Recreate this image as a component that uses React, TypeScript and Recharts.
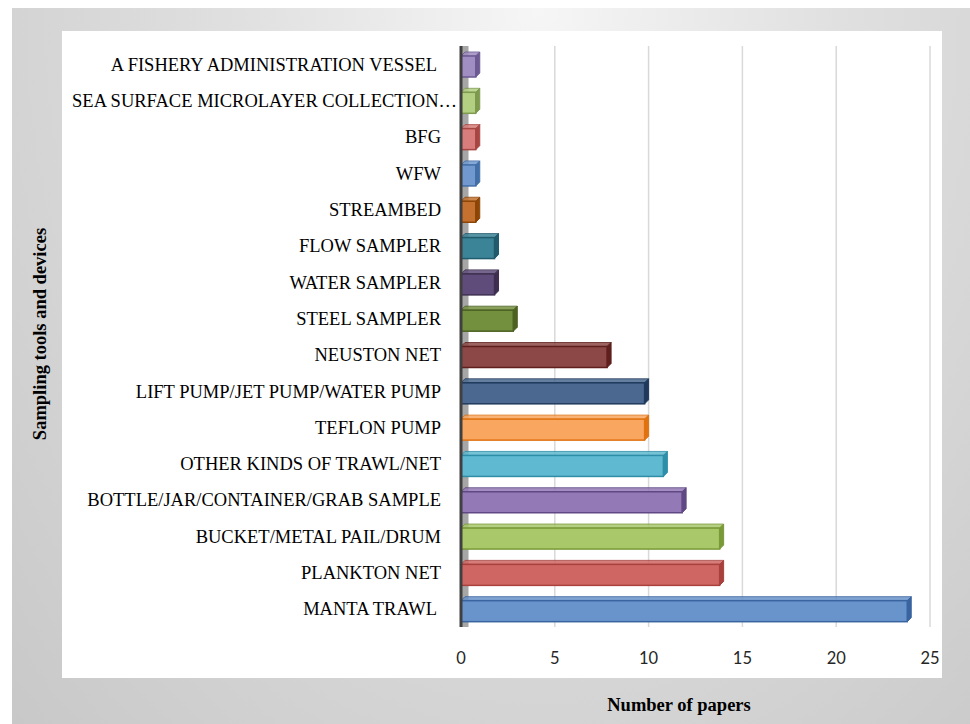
import React from "react";
import {
  BarChart,
  Bar,
  XAxis,
  YAxis,
  CartesianGrid,
  Cell,
  ReferenceArea,
} from "recharts";

// top to bottom, as drawn
const categories = [
  "A FISHERY ADMINISTRATION VESSEL ",
  "SEA SURFACE MICROLAYER COLLECTION…",
  "BFG",
  "WFW",
  "STREAMBED",
  "FLOW SAMPLER",
  "WATER SAMPLER",
  "STEEL SAMPLER",
  "NEUSTON NET",
  "LIFT PUMP/JET PUMP/WATER PUMP",
  "TEFLON PUMP",
  "OTHER KINDS OF TRAWL/NET",
  "BOTTLE/JAR/CONTAINER/GRAB SAMPLE",
  "BUCKET/METAL PAIL/DRUM",
  "PLANKTON NET",
  "MANTA TRAWL ",
];

const papers = [1, 1, 1, 1, 1, 2, 2, 3, 8, 10, 10, 11, 12, 14, 14, 24];

const xTicks = [0, 5, 10, 15, 20, 25];

const fills = [
  "#a08dc2", "#b3cf82", "#d87d7b", "#7199d0", "#c4702e", "#3b8397",
  "#5f4c7a", "#73903e", "#8c4846", "#4a6890", "#f9a660", "#5fb9d0",
  "#9379b5", "#a9c86a", "#d06663", "#6893cb",
];
const edges = [
  "#6d5a92", "#7e9a4e", "#a84644", "#426fa8", "#8d4607", "#205c6c",
  "#3d2f50", "#4c6122", "#5e1f1d", "#1f3a5c", "#e0720f", "#2e8ea8",
  "#5f4884", "#7a9a38", "#a8403d", "#3a64a0",
];

const data = categories.map((name, i) => ({ name, value: papers[i] }));

const Bar3D = (props: any) => {
  const { x, y, width, height, fill, stroke } = props;
  if (!width || width <= 0) return null;
  const d = 4;
  const fw = width - d;
  return (
    <g>
      <polygon
        points={`${x},${y + d} ${x + d},${y} ${x + width},${y} ${x + fw},${y + d}`}
        fill={fill}
        stroke={stroke}
        strokeWidth={1}
        opacity={0.85}
      />
      <polygon
        points={`${x + fw},${y + d} ${x + width},${y} ${x + width},${y + height - d} ${x + fw},${y + height}`}
        fill={stroke}
        stroke={stroke}
        strokeWidth={1}
      />
      <rect
        x={x}
        y={y + d}
        width={fw}
        height={height - d}
        fill={fill}
        stroke={stroke}
        strokeWidth={1.5}
      />
    </g>
  );
};

// truncated label runs on past the others, up to the axis
const CategoryTick = (props: any) => {
  const { x, y, payload } = props;
  const label: string = payload.value;
  const dx = label.endsWith("…") ? 16 : 0;
  return (
    <text
      x={x + dx}
      y={y}
      dy="0.355em"
      textAnchor="end"
      fill="#000"
      fontSize={18.5}
      fontFamily="'Liberation Serif', serif"
      style={{ whiteSpace: "pre" }}
    >
      {label}
    </text>
  );
};

export default function App() {
  return (
    <div
      style={{
        position: "absolute",
        left: 0,
        top: 0,
        width: 970,
        height: 724,
        background: "#ffffff",
        overflow: "hidden",
      }}
    >
      <div
        style={{
          position: "absolute",
          left: 12,
          top: 8,
          width: 958,
          height: 716,
          background:
            "radial-gradient(ellipse at 55% 0%, #f6f6f6 0%, #e0e0e0 40%, #c8c8c8 100%)",
        }}
      />
      <div
        style={{
          position: "absolute",
          left: 62,
          top: 31,
          width: 880,
          height: 647,
          background: "#ffffff",
        }}
      />
      <div
        style={{
          position: "absolute",
          left: 40,
          top: 334,
          transform: "translate(-50%, -50%) rotate(-90deg)",
          whiteSpace: "nowrap",
          fontFamily: "'Liberation Serif', serif",
          fontWeight: "bold",
          fontSize: 18.5,
          color: "#000",
        }}
      >
        Sampling tools and devices
      </div>
      <div
        style={{
          position: "absolute",
          left: 679,
          top: 705,
          transform: "translate(-50%, -50%)",
          whiteSpace: "nowrap",
          fontFamily: "'Liberation Serif', serif",
          fontWeight: "bold",
          fontSize: 18.5,
          color: "#000",
        }}
      >
        Number of papers
      </div>
      <BarChart
        width={970}
        height={724}
        data={data}
        layout="vertical"
        margin={{ top: 46, right: 40, bottom: 57, left: 0 }}
        barCategoryGap={6}
        style={{ position: "absolute", left: 0, top: 0 }}
      >
        <CartesianGrid horizontal={false} stroke="#d9d9d9" strokeWidth={1.5} />
        <ReferenceArea
          x1={0}
          x2={0.4}
          fill="#a6a6a6"
          fillOpacity={1}
          stroke="none"
          ifOverflow="visible"
        />
        <XAxis
          type="number"
          domain={[0, 25]}
          ticks={xTicks}
          axisLine={false}
          tickLine={false}
          tickSize={0}
          tickMargin={25}
          height={40}
          tick={{ fill: "#262626", fontSize: 16.5, fontFamily: "Lato, 'Open Sans', sans-serif" }}
        />
        <YAxis
          type="category"
          dataKey="name"
          width={461}
          interval={0}
          axisLine={{ stroke: "#404040", strokeWidth: 3 }}
          tickLine={false}
          tickSize={0}
          tickMargin={20}
          tick={<CategoryTick />}
        />
        <Bar dataKey="value" barSize={25} shape={<Bar3D />} isAnimationActive={false}>
          {data.map((d, i) => (
            <Cell key={d.name} fill={fills[i]} stroke={edges[i]} />
          ))}
        </Bar>
      </BarChart>
    </div>
  );
}
